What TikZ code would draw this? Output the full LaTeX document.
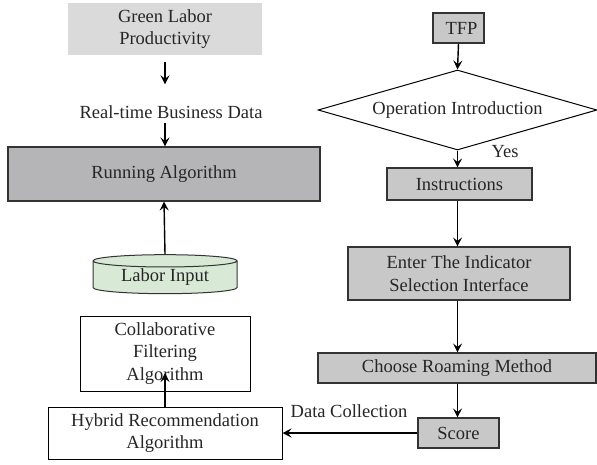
\documentclass[tikz,border=0pt]{standalone}
\usepackage{fontspec}
\setmainfont{Liberation Serif}
\usetikzlibrary{shapes.geometric,arrows.meta}
\definecolor{boxgray}{HTML}{C8C8C8}
\definecolor{rungray}{HTML}{B5B5B7}
\definecolor{lightgray}{HTML}{DADADA}
\definecolor{greenfill}{HTML}{D8EAD6}
\definecolor{edge}{HTML}{333333}
\tikzset{
  every node/.style={font=\fontsize{18.5}{22.5}\selectfont, text=black!85, inner sep=0pt, align=center},
  graybox/.style={rectangle, draw=edge, line width=1.1pt, fill=boxgray},
  whitebox/.style={rectangle, draw=black, line width=1pt, fill=white},
  arr/.style={-{Stealth[length=9pt,width=9pt,inset=3.5pt]}, line width=1.4pt, black},
  lbl/.style={}
}
\begin{document}
\begin{tikzpicture}[x=1pt,y=-1pt]
\useasboundingbox (0,0) rectangle (597,464);
% left column
\node[fill=lightgray, minimum width=194pt, minimum height=52pt] (glp) at (165,29) {Green Labor\\Productivity};
\node[lbl] (rtb) at (171,112) {Real-time Business Data};
\node[graybox, fill=rungray, minimum width=312pt, minimum height=54pt] (run) at (164,174) {Running Algorithm};
\node[cylinder, shape border rotate=90, aspect=0.14, draw=edge, line width=1pt,
      cylinder uses custom fill, cylinder body fill=greenfill, cylinder end fill=greenfill,
      minimum width=144pt, minimum height=39pt] (labor) at (165,277.5) {Labor Input};
\node[whitebox, minimum width=170pt, minimum height=75pt] (cfa) at (165,353.5) {Collaborative\\Filtering\\Algorithm};
\node[whitebox, minimum width=234pt, minimum height=52pt] (hra) at (165,433) {Hybrid Recommendation\\Algorithm};
\coordinate (cfain) at (165,373);
% right column
\node[graybox, minimum width=51pt, minimum height=30pt] (tfp) at (458.5,28) {\hspace*{6pt}TFP};
\node[diamond, draw=black, line width=1pt, fill=white, minimum width=279pt, minimum height=80pt, aspect=3.5] (op) at (457.5,110) {Operation Introduction};
\node[graybox, minimum width=145pt, minimum height=32pt] (ins) at (459.5,184) {Instructions};
\node[lbl] (yes) at (505,152) {Yes};
\node[graybox, minimum width=222pt, minimum height=53pt] (ent) at (459,273.5) {Enter The Indicator\\Selection Interface};
\node[graybox, minimum width=278pt, minimum height=30pt] (cho) at (457,368) {Choose Roaming Method};
\node[graybox, minimum width=81pt, minimum height=30pt] (sco) at (458.5,433) {Score};
\node[lbl] (dc) at (349,411) {Data Collection};
% connectors
\draw[arr, shorten <=7pt, shorten >=21pt] (glp.south) -- (glp.south |- rtb.north);
\draw[arr, shorten <=4pt] (glp.south |- rtb.south) -- (glp.south |- run.north);
\draw[arr] (labor.north) -- (run.south);
\draw[arr, line width=2.2pt] (hra.north) -- (cfain);
\draw[arr] (tfp.south) -- (op.north);
\draw[arr] (op.south) -- (op.south |- ins.north);
\draw[arr] (ins.south -| op.south) -- (op.south |- ent.north);
\draw[arr] (op.south |- ent.south) -- (op.south |- cho.north);
\draw[arr] (op.south |- cho.south) -- (op.south |- sco.north);
\draw[arr] (sco.west) -- (hra.east);
\end{tikzpicture}
\end{document}
